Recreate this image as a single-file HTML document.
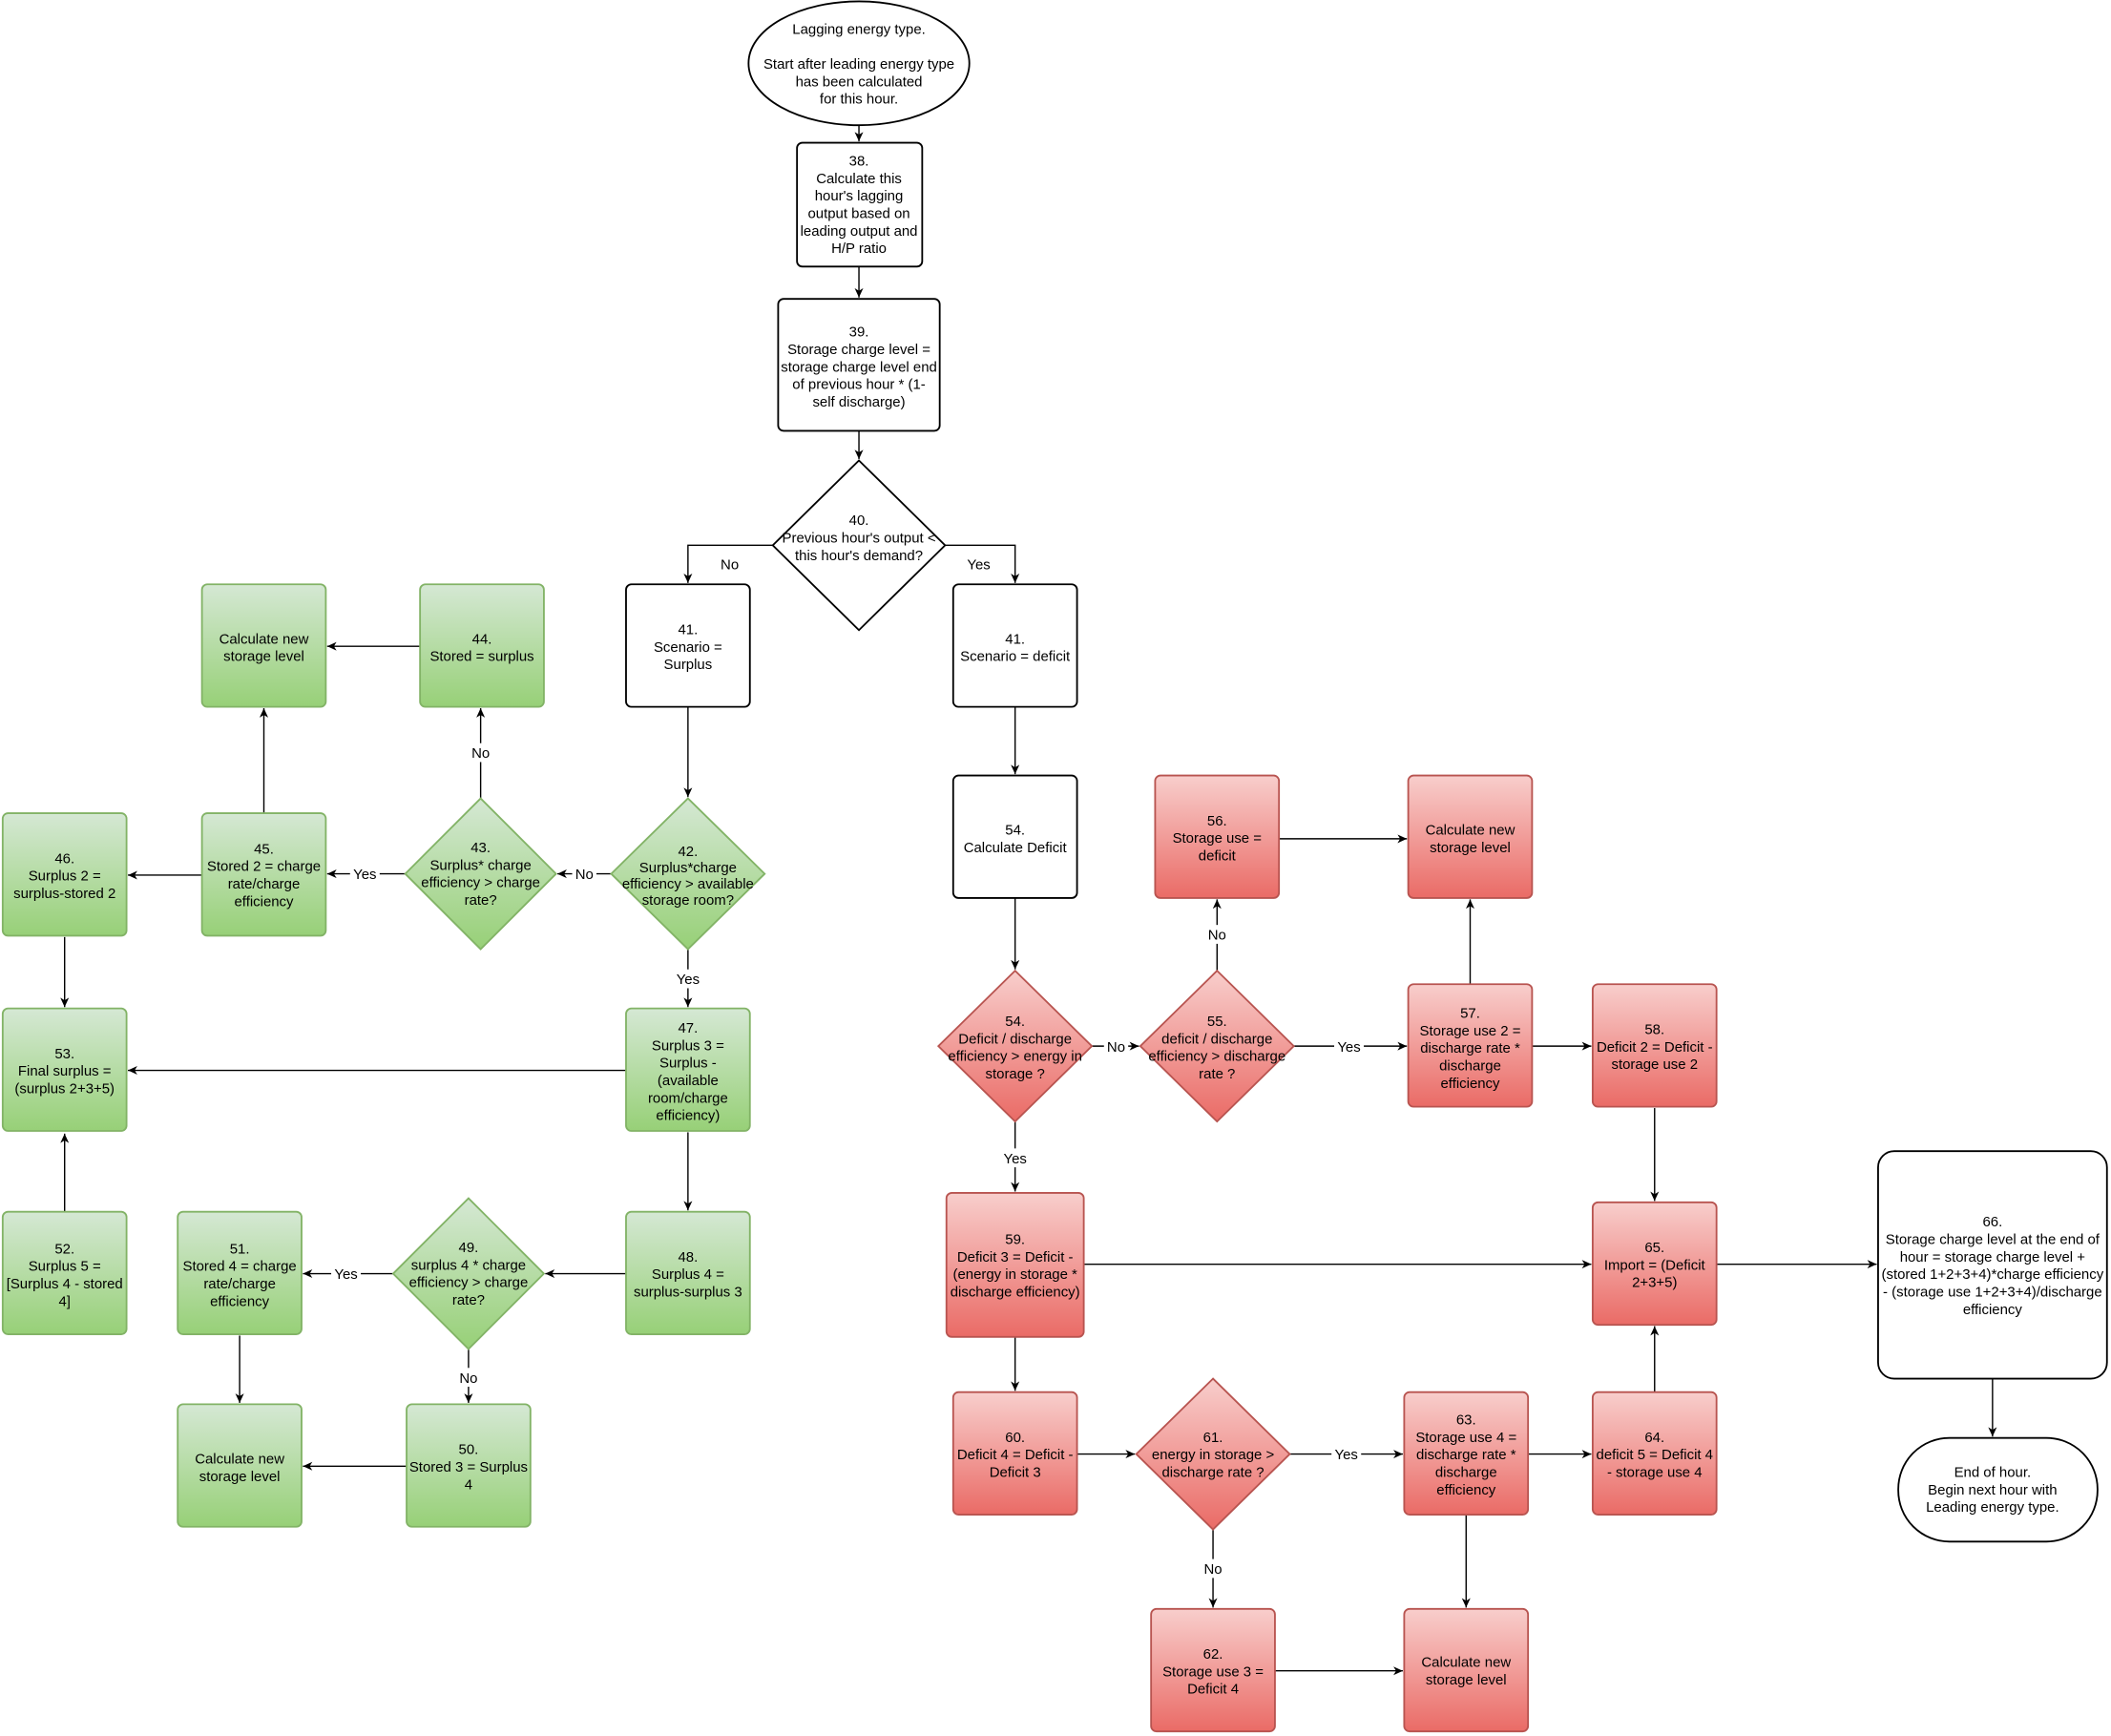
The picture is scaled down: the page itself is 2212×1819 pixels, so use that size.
<!DOCTYPE html>
<html><head><meta charset="utf-8"><style>html,body{margin:0;padding:0;background:#fff}svg{display:block}text{font-family:"Liberation Sans",Helvetica,sans-serif;font-size:10.6px;fill:#000}</style></head><body>
<svg width="2212" height="1819" viewBox="0 0 1568 1289.4" xmlns="http://www.w3.org/2000/svg">
<defs>
<linearGradient id="g" x1="0" y1="0" x2="0" y2="1"><stop offset="0" stop-color="#d5e8d4"/><stop offset="1" stop-color="#97d077"/></linearGradient>
<linearGradient id="r" x1="0" y1="0" x2="0" y2="1"><stop offset="0" stop-color="#f8cecc"/><stop offset="1" stop-color="#ea6b66"/></linearGradient>
<marker id="a" markerWidth="8" markerHeight="8" refX="7" refY="4" orient="auto" markerUnits="userSpaceOnUse"><path d="M0,0.8 L7,4 L0,7.2 L2,4 Z" fill="#000"/></marker>
</defs>
<g fill="none" stroke="#000" stroke-width="1" marker-end="url(#a)">
<path d="M638,93 V105"/>
<path d="M638,198 V221"/>
<path d="M638,320 V341"/>
<path d="M574,405 H511 V433"/>
<path d="M702,405 H754 V433"/>
<path d="M511,525 V592"/>
<path d="M754,525 V575"/>
<path d="M454,649 H414"/>
<path d="M301,649 H243"/>
<path d="M357,593 V526"/>
<path d="M312,480 H243"/>
<path d="M196,604 V526"/>
<path d="M150,650 H95"/>
<path d="M48,696 V748"/>
<path d="M511,705 V748"/>
<path d="M465,795 H95"/>
<path d="M511,841 V899"/>
<path d="M465,946 H405"/>
<path d="M292,946 H225"/>
<path d="M348,1002 V1042"/>
<path d="M302,1089 H225"/>
<path d="M178,992 V1042"/>
<path d="M48,900 V842"/>
<path d="M754,667 V720"/>
<path d="M811,777 H846"/>
<path d="M904,721 V668"/>
<path d="M950,623 H1045"/>
<path d="M961,777 H1045"/>
<path d="M1092,731 V668"/>
<path d="M1138,777 H1182"/>
<path d="M1229,823 V892"/>
<path d="M754,833 V885"/>
<path d="M805,939 H1182"/>
<path d="M1275,939 H1394"/>
<path d="M754,993 V1033"/>
<path d="M800,1080 H843"/>
<path d="M958,1080 H1042"/>
<path d="M1135,1080 H1182"/>
<path d="M1229,1034 V985"/>
<path d="M901,1136 V1194"/>
<path d="M947,1241 H1042"/>
<path d="M1089,1125 V1194"/>
<path d="M1480,1024 V1067"/>
</g>
<g fill="#fff" stroke="#000" stroke-width="1.3">
<ellipse cx="638" cy="47" rx="82" ry="46"/>
<rect x="592" y="106" width="93" height="92" rx="4"/>
<rect x="578" y="222" width="120" height="98" rx="4"/>
<polygon points="638,342 702,405 638,468 574,405"/>
<rect x="465" y="434" width="92" height="91" rx="4"/>
<rect x="708" y="434" width="92" height="91" rx="4"/>
<rect x="708" y="576" width="92" height="91" rx="4"/>
<rect x="1395" y="855" width="170" height="169" rx="12"/>
<rect x="1410" y="1068" width="148" height="77" rx="38"/>
</g>
<g fill="url(#g)" stroke="#82b366" stroke-width="1.3">
<rect x="150" y="434" width="92" height="91" rx="4"/>
<rect x="312" y="434" width="92" height="91" rx="4"/>
<rect x="2" y="604" width="92" height="91" rx="4"/>
<rect x="150" y="604" width="92" height="91" rx="4"/>
<polygon points="357,593 413,649 357,705 301,649"/>
<polygon points="511,593 568,649 511,705 454,649"/>
<rect x="2" y="749" width="92" height="91" rx="4"/>
<rect x="465" y="749" width="92" height="91" rx="4"/>
<rect x="2" y="900" width="92" height="91" rx="4"/>
<rect x="132" y="900" width="92" height="91" rx="4"/>
<polygon points="348,890 404,946 348,1002 292,946"/>
<rect x="465" y="900" width="92" height="91" rx="4"/>
<rect x="132" y="1043" width="92" height="91" rx="4"/>
<rect x="302" y="1043" width="92" height="91" rx="4"/>
</g>
<g fill="url(#r)" stroke="#b85450" stroke-width="1.3">
<rect x="858" y="576" width="92" height="91" rx="4"/>
<rect x="1046" y="576" width="92" height="91" rx="4"/>
<polygon points="754,721 811,777 754,833 697,777"/>
<polygon points="904,721 961,777 904,833 847,777"/>
<rect x="1046" y="731" width="92" height="91" rx="4"/>
<rect x="1183" y="731" width="92" height="91" rx="4"/>
<rect x="703" y="886" width="102" height="107" rx="4"/>
<rect x="1183" y="893" width="92" height="91" rx="4"/>
<rect x="708" y="1034" width="92" height="91" rx="4"/>
<polygon points="901,1024 958,1080 901,1136 844,1080"/>
<rect x="1043" y="1034" width="92" height="91" rx="4"/>
<rect x="1183" y="1034" width="92" height="91" rx="4"/>
<rect x="855" y="1195" width="92" height="91" rx="4"/>
<rect x="1043" y="1195" width="92" height="91" rx="4"/>
</g>
<g fill="#fff">
<rect x="533" y="411" width="18" height="14"/><rect x="716" y="411" width="22" height="14"/>
<rect x="425" y="643" width="18" height="12"/><rect x="260" y="643" width="22" height="12"/>
<rect x="348" y="552" width="18" height="14"/><rect x="500" y="720" width="22" height="14"/>
<rect x="246" y="940" width="22" height="12"/><rect x="339" y="1016" width="18" height="14"/>
<rect x="820" y="771" width="18" height="12"/><rect x="895" y="687" width="18" height="14"/>
<rect x="991" y="771" width="22" height="12"/><rect x="743" y="853" width="22" height="14"/>
<rect x="989" y="1074" width="22" height="12"/><rect x="892" y="1158" width="18" height="14"/>
</g>
<g text-anchor="middle">
<text x="542" y="423">No</text><text x="727" y="423">Yes</text>
<text x="434" y="653">No</text><text x="271" y="653">Yes</text>
<text x="357" y="563">No</text><text x="511" y="731">Yes</text>
<text x="257" y="950">Yes</text><text x="348" y="1027">No</text>
<text x="829" y="781">No</text><text x="904" y="698">No</text>
<text x="1002" y="781">Yes</text><text x="754" y="864">Yes</text>
<text x="1000" y="1084">Yes</text><text x="901" y="1169">No</text>

<text x="638" y="25">Lagging energy type.</text>
<text x="638" y="51">Start after leading energy type</text>
<text x="638" y="64">has been calculated</text>
<text x="638" y="77">for this hour.</text>
<text x="638" y="123">38.</text><text x="638" y="136">Calculate this</text><text x="638" y="149">hour's lagging</text><text x="638" y="162">output based on</text><text x="638" y="175">leading output and</text><text x="638" y="188">H/P ratio</text>
<text x="638" y="250">39.</text><text x="638" y="263">Storage charge level =</text><text x="638" y="276">storage charge level end</text><text x="638" y="289">of previous hour * (1-</text><text x="638" y="302">self discharge)</text>
<text x="638" y="390">40.</text><text x="638" y="403">Previous hour's output &lt;</text><text x="638" y="416">this hour's demand?</text>
<text x="511" y="471">41.</text><text x="511" y="484">Scenario =</text><text x="511" y="497">Surplus</text>
<text x="754" y="478">41.</text><text x="754" y="491">Scenario = deficit</text>
<text x="196" y="478">Calculate new</text><text x="196" y="491">storage level</text>
<text x="358" y="478">44.</text><text x="358" y="491">Stored = surplus</text>
<text x="48" y="641">46.</text><text x="48" y="654">Surplus 2 =</text><text x="48" y="667">surplus-stored 2</text>
<text x="196" y="634">45.</text><text x="196" y="647">Stored 2 = charge</text><text x="196" y="660">rate/charge</text><text x="196" y="673">efficiency</text>
<text x="357" y="633">43.</text><text x="357" y="646">Surplus* charge</text><text x="357" y="659">efficiency &gt; charge</text><text x="357" y="672">rate?</text>
<text x="511" y="636">42.</text><text x="511" y="648">Surplus*charge</text><text x="511" y="660">efficiency &gt; available</text><text x="511" y="672">storage room?</text>
<text x="48" y="786">53.</text><text x="48" y="799">Final surplus =</text><text x="48" y="812">(surplus 2+3+5)</text>
<text x="511" y="767">47.</text><text x="511" y="780">Surplus 3 =</text><text x="511" y="793">Surplus -</text><text x="511" y="806">(available</text><text x="511" y="819">room/charge</text><text x="511" y="832">efficiency)</text>
<text x="48" y="931">52.</text><text x="48" y="944">Surplus 5 =</text><text x="48" y="957">[Surplus 4 - stored</text><text x="48" y="970">4]</text>
<text x="178" y="931">51.</text><text x="178" y="944">Stored 4 = charge</text><text x="178" y="957">rate/charge</text><text x="178" y="970">efficiency</text>
<text x="348" y="930">49.</text><text x="348" y="943">surplus 4 * charge</text><text x="348" y="956">efficiency &gt; charge</text><text x="348" y="969">rate?</text>
<text x="511" y="937">48.</text><text x="511" y="950">Surplus 4 =</text><text x="511" y="963">surplus-surplus 3</text>
<text x="178" y="1087">Calculate new</text><text x="178" y="1100">storage level</text>
<text x="348" y="1080">50.</text><text x="348" y="1093">Stored 3 = Surplus</text><text x="348" y="1106">4</text>
<text x="754" y="620">54.</text><text x="754" y="633">Calculate Deficit</text>
<text x="904" y="613">56.</text><text x="904" y="626">Storage use =</text><text x="904" y="639">deficit</text>
<text x="1092" y="620">Calculate new</text><text x="1092" y="633">storage level</text>
<text x="754" y="762">54.</text><text x="754" y="775">Deficit / discharge</text><text x="754" y="788">efficiency &gt; energy in</text><text x="754" y="801">storage ?</text>
<text x="904" y="762">55.</text><text x="904" y="775">deficit / discharge</text><text x="904" y="788">efficiency &gt; discharge</text><text x="904" y="801">rate ?</text>
<text x="1092" y="756">57.</text><text x="1092" y="769">Storage use 2 =</text><text x="1092" y="782">discharge rate *</text><text x="1092" y="795">discharge</text><text x="1092" y="808">efficiency</text>
<text x="1229" y="768">58.</text><text x="1229" y="781">Deficit 2 = Deficit -</text><text x="1229" y="794">storage use 2</text>
<text x="754" y="924">59.</text><text x="754" y="937">Deficit 3 = Deficit -</text><text x="754" y="950">(energy in storage *</text><text x="754" y="963">discharge efficiency)</text>
<text x="1229" y="930">65.</text><text x="1229" y="943">Import = (Deficit</text><text x="1229" y="956">2+3+5)</text>
<text x="1480" y="911">66.</text><text x="1480" y="924">Storage charge level at the end of</text><text x="1480" y="937">hour  = storage charge level +</text><text x="1480" y="950">(stored 1+2+3+4)*charge efficiency</text><text x="1480" y="963">- (storage use 1+2+3+4)/discharge</text><text x="1480" y="976">efficiency</text>
<text x="754" y="1071">60.</text><text x="754" y="1084">Deficit 4 = Deficit -</text><text x="754" y="1097">Deficit 3</text>
<text x="901" y="1071">61.</text><text x="901" y="1084">energy in storage &gt;</text><text x="901" y="1097">discharge rate ?</text>
<text x="1089" y="1058">63.</text><text x="1089" y="1071">Storage use 4 =</text><text x="1089" y="1084">discharge rate *</text><text x="1089" y="1097">discharge</text><text x="1089" y="1110">efficiency</text>
<text x="1229" y="1071">64.</text><text x="1229" y="1084">deficit 5 = Deficit 4</text><text x="1229" y="1097">- storage use 4</text>
<text x="1480" y="1097">End of hour.</text><text x="1480" y="1110">Begin next hour with</text><text x="1480" y="1123">Leading energy type.</text>
<text x="901" y="1232">62.</text><text x="901" y="1245">Storage use 3 =</text><text x="901" y="1258">Deficit 4</text>
<text x="1089" y="1238">Calculate new</text><text x="1089" y="1251">storage level</text>
</g>
</svg>
</body></html>
